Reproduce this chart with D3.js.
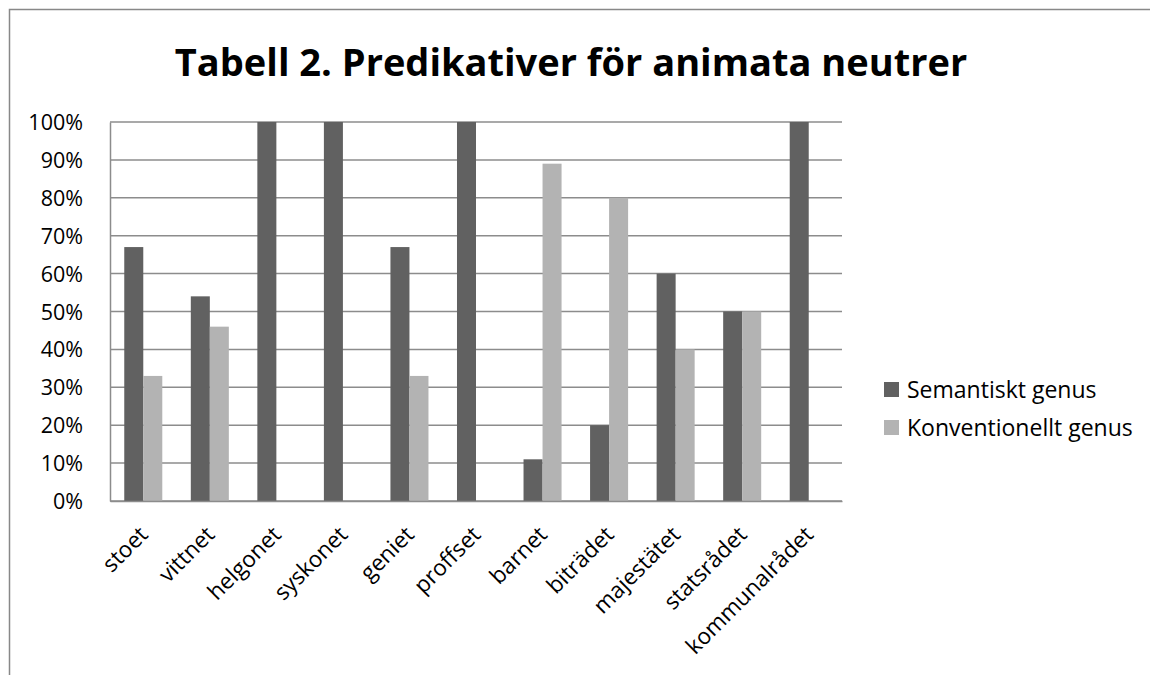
<!DOCTYPE html>
<html>
<head>
<meta charset="utf-8">
<script src="https://cdn.jsdelivr.net/npm/d3@7"></script>
<style>
  body { margin: 0; background: #fff; }
  svg text { font-family: "Open Sans", "Noto Sans", sans-serif; fill: #000; }
</style>
</head>
<body>
<svg id="chart" width="1150" height="675"></svg>
<script>
// data
let categories = ["stoet", "vittnet", "helgonet", "syskonet", "geniet", "proffset",
    "barnet", "biträdet", "majestätet", "statsrådet", "kommunalrådet"];
let seriesNames = ["Semantiskt genus", "Konventionellt genus"];
let semantiskt = [67, 54, 100, 100, 67, 100, 11, 20, 60, 50, 100];
let konventionellt = [33, 46, 0, 0, 33, 0, 89, 80, 40, 50, 0];
let yTicks = [0, 10, 20, 30, 40, 50, 60, 70, 80, 90, 100];
let colors = ["#616161", "#b3b3b3"];

let svg = d3.select("#chart"),
    margin = {top: 122, left: 110, right: 308, bottom: 174},
    width = +svg.attr("width") - margin.left - margin.right,
    height = +svg.attr("height") - margin.top - margin.bottom;

// outer frame (left and top edges visible)
svg.append("path")
    .attr("d", "M9.5,675 V9.5 H1150")
    .attr("fill", "none")
    .attr("stroke", "#888")
    .attr("stroke-width", 1.5);

svg.append("text")
    .attr("x", 571)
    .attr("y", 76)
    .attr("text-anchor", "middle")
    .style("font-size", "38px")
    .style("font-weight", "bold")
    .text("Tabell 2. Predikativer för animata neutrer");

let g = svg.append("g").attr("transform", "translate(" + margin.left + "," + margin.top + ")");

let x = d3.scaleBand().domain(categories).range([0, width]);
let y = d3.scaleLinear().domain([0, 100]).range([height, 0]);

// gridlines
g.selectAll(".grid")
    .data(yTicks)
    .enter().append("line")
    .attr("class", "grid")
    .attr("x1", 0).attr("x2", width)
    .attr("y1", d => y(d)).attr("y2", d => y(d))
    .attr("stroke", "#8c8c8c")
    .attr("stroke-width", 1.5);

// y axis
let yAxis = g.append("g")
    .call(d3.axisLeft(y).tickValues(yTicks).tickFormat(d => d + "%").tickSize(0).tickPadding(27));
yAxis.select(".domain").attr("stroke", "#8c8c8c").attr("stroke-width", 1.5);
yAxis.selectAll("text").style("font-size", "21.5px").attr("dy", "0.35em");

// bars, Excel-style gap (two bars + 150% gap per category)
let barW = x.bandwidth() / 3.5;
let series = [semantiskt, konventionellt];
series.forEach((vals, si) => {
    g.selectAll(".bar" + si)
        .data(categories)
        .enter().append("rect")
        .attr("class", "bar" + si)
        .attr("x", (d, i) => x(d) + x.bandwidth() / 2 - barW + si * barW)
        .attr("width", barW)
        .attr("y", (d, i) => y(vals[i]))
        .attr("height", (d, i) => height - y(vals[i]))
        .attr("fill", colors[si]);
});

// x axis
let xAxis = g.append("g")
    .attr("transform", "translate(0," + height + ")")
    .call(d3.axisBottom(x).tickSize(0).tickPadding(0));
xAxis.select(".domain").attr("stroke", "#8c8c8c").attr("stroke-width", 1.5);
xAxis.selectAll("text")
    .style("font-size", "22.5px")
    .attr("text-anchor", "end")
    .attr("dy", 0)
    .attr("transform", "translate(6,35) rotate(-45)");

// legend
let legend = svg.append("g").attr("transform", "translate(884,389)");
seriesNames.forEach((name, i) => {
    let row = legend.append("g").attr("transform", "translate(0," + i * 38 + ")");
    row.append("rect")
        .attr("x", 0).attr("y", -7)
        .attr("width", 15).attr("height", 15)
        .attr("fill", colors[i]);
    row.append("text")
        .attr("x", 23).attr("y", 1).attr("dy", "0.35em")
        .style("font-size", "23px")
        .text(name);
});
</script>
</body>
</html>
